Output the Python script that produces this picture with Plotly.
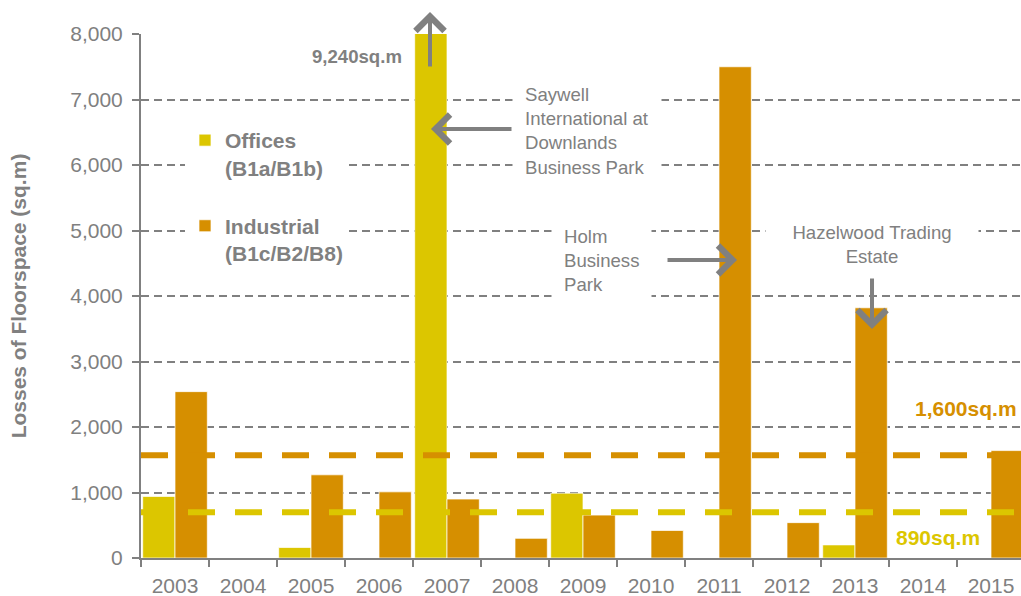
import plotly.graph_objects as go

# ---- data ----
years = ["2003", "2004", "2005", "2006", "2007", "2008", "2009",
         "2010", "2011", "2012", "2013", "2014", "2015"]
offices = [940, 0, 160, 0, 9240, 0, 990, 0, 0, 0, 200, 0, 0]
industrial = [2540, 0, 1270, 1010, 900, 300, 655, 420, 7500, 540, 3820, 0, 1640]

series_names = ["Offices<br>(B1a/B1b)", "Industrial<br>(B1c/B2/B8)"]
industrial_ref_y = 1570
offices_ref_y = 700
industrial_ref_label = "1,600sq.m"
offices_ref_label = "890sq.m"
peak_label = "9,240sq.m"

YELLOW = "#DCC600"
ORANGE = "#D68F00"
GRAY = "#808080"
FONT = "Liberation Sans, Arial, sans-serif"

fig = go.Figure()
fig.add_trace(go.Bar(x=years, y=offices, name=series_names[0], legendgroup="o",
                     marker=dict(color=YELLOW, line=dict(color="rgba(255,255,255,0.7)", width=1))))
fig.add_trace(go.Bar(x=years, y=industrial, name=series_names[1], legendgroup="i",
                     marker=dict(color=ORANGE, line=dict(color="rgba(255,255,255,0.7)", width=1))))

# reference dashed lines
fig.add_shape(type="line", xref="paper", yref="y", x0=0, x1=1,
              y0=industrial_ref_y, y1=industrial_ref_y,
              line=dict(color=ORANGE, width=6, dash="27px,20px"), layer="above")
fig.add_shape(type="line", xref="paper", yref="y", x0=0, x1=1,
              y0=offices_ref_y, y1=offices_ref_y,
              line=dict(color=YELLOW, width=6, dash="27px,20px"), layer="above")

ann_font = dict(family=FONT, size=18.6, color=GRAY)

def px2x(px):
    return (px - 141) / 880.0

def px2y(py):
    return (558 - py) / 524.0

annotations = [
    dict(text=peak_label, xref="paper", yref="paper", x=px2x(404), y=px2y(56),
         xanchor="right", yanchor="middle", showarrow=False,
         font=dict(family=FONT, size=18.6, color=GRAY, weight="bold")),
    dict(text="Saywell<br>International at<br>Downlands<br>Business Park",
         xref="paper", yref="paper", x=px2x(512), y=px2y(130.5), xanchor="left",
         yanchor="middle", align="left", showarrow=False, font=ann_font,
         bgcolor="white", borderpad=12),
    dict(text="Holm<br>Business<br>Park", xref="paper", yref="paper", x=px2x(551),
         y=px2y(260.5), xanchor="left", yanchor="middle", align="left",
         showarrow=False, font=ann_font, bgcolor="white", borderpad=12),
    dict(text="Hazelwood Trading<br>Estate", xref="paper", yref="paper", x=px2x(872),
         y=px2y(244.5), xanchor="center", yanchor="middle", align="center",
         showarrow=False, font=ann_font, bgcolor="white", borderpad=6, width=200),
    dict(text=industrial_ref_label, xref="paper", yref="paper", x=px2x(1019), y=px2y(408),
         xanchor="right", yanchor="middle", showarrow=False,
         font=dict(family=FONT, size=21, color=ORANGE, weight="bold")),
    dict(text=offices_ref_label, xref="paper", yref="paper", x=px2x(938), y=px2y(537),
         xanchor="center", yanchor="middle", showarrow=False,
         font=dict(family=FONT, size=21, color=YELLOW, weight="bold")),
]

arrow_style = dict(text="", showarrow=True, arrowhead=4, arrowsize=1.4, arrowwidth=4,
                   arrowcolor=GRAY)
# arrows (x = category index of the year)
annotations += [
    dict(xref="x", yref="paper", x=years.index("2007"), xshift=-17, y=px2y(12),
         ax=0, ay=56, **arrow_style),
    dict(xref="x", yref="paper", x=years.index("2007"), xshift=-16, y=px2y(129),
         ax=82, ay=0, **arrow_style),
    dict(xref="x", yref="paper", x=years.index("2011"), xshift=18, y=px2y(260),
         ax=-71, ay=0, **arrow_style),
    dict(xref="x", yref="paper", x=years.index("2013"), xshift=17, y=px2y(329),
         ax=0, ay=-52, **arrow_style),
]

fig.update_layout(
    width=1021, height=596,
    margin=dict(l=141, r=0, t=34, b=38, autoexpand=False),
    paper_bgcolor="white", plot_bgcolor="white",
    font=dict(family=FONT, color=GRAY, size=21),
    barmode="group", bargap=0.05, bargroupgap=0,
    showlegend=True,
    legend=dict(x=px2x(185), y=px2y(120), xanchor="left", yanchor="top",
                bgcolor="white", traceorder="grouped", tracegroupgap=28,
                valign="top",
                font=dict(family=FONT, size=21, color=GRAY, weight="bold")),
    annotations=annotations,
    xaxis=dict(type="category", range=[-0.5, 12.441], tickson="boundaries",
               ticks="outside", ticklen=7, tickwidth=2, tickcolor=GRAY,
               ticklabelstandoff=8,
               showline=True, linewidth=2, linecolor=GRAY, showgrid=False,
               tickfont=dict(family=FONT, size=21, color=GRAY), automargin=False),
    yaxis=dict(range=[0, 8000], dtick=1000, tickformat=",", ticks="outside",
               ticklen=7, tickwidth=2, tickcolor=GRAY, ticklabelstandoff=5,
               showline=True, linewidth=2, linecolor=GRAY, zeroline=False,
               showgrid=True, gridcolor=GRAY, gridwidth=1.5, griddash="8px,5px",
               tickfont=dict(family=FONT, size=21, color=GRAY), automargin=False,
               title=dict(text="Losses of Floorspace (sq.m)", standoff=38,
                          font=dict(family=FONT, size=21, color=GRAY, weight="bold"))),
)

fig.write_html("out.html", config={"displayModeBar": False},
               post_script="document.body.style.margin='0px';")
